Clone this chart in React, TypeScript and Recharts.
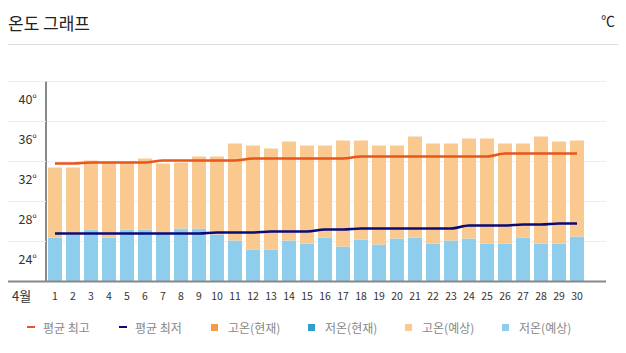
import { ComposedChart, Bar, Line, XAxis, YAxis, CartesianGrid, Legend } from 'recharts';

const days = ['1', '2', '3', '4', '5', '6', '7', '8', '9', '10', '11', '12', '13', '14', '15',
  '16', '17', '18', '19', '20', '21', '22', '23', '24', '25', '26', '27', '28', '29', '30'];

// forecast highs / lows per day (°C)
const highForecast = [31.4, 31.4, 32.1, 31.9, 31.9, 32.3, 31.8, 31.9, 32.5, 32.5, 33.8, 33.6, 33.3, 34.0, 33.6,
  33.6, 34.1, 34.1, 33.6, 33.6, 34.5, 33.8, 33.8, 34.3, 34.3, 33.8, 33.8, 34.5, 34.0, 34.1];
const lowForecast = [24.4, 24.7, 25.2, 24.4, 25.2, 25.2, 24.9, 25.3, 25.3, 24.7, 24.1, 23.2, 23.2, 24.1, 23.8,
  24.4, 23.5, 24.2, 23.7, 24.3, 24.4, 23.8, 24.1, 24.3, 23.8, 23.8, 24.4, 23.8, 23.8, 24.5];

// average high / low
const avgHigh = [31.8, 31.8, 31.9, 31.9, 31.9, 31.9, 32.1, 32.1, 32.1, 32.1, 32.1, 32.3, 32.3, 32.3, 32.3,
  32.3, 32.3, 32.5, 32.5, 32.5, 32.5, 32.5, 32.5, 32.5, 32.5, 32.8, 32.8, 32.8, 32.8, 32.8];
const avgLow = [24.8, 24.8, 24.8, 24.8, 24.8, 24.8, 24.8, 24.8, 24.8, 24.9, 24.9, 24.9, 25.0, 25.0, 25.0,
  25.2, 25.2, 25.3, 25.3, 25.3, 25.3, 25.3, 25.3, 25.6, 25.6, 25.6, 25.7, 25.7, 25.8, 25.8];

const yTicks = [20, 24, 28, 32, 36, 40];
const monthLabel = '4월';

const legendItems = [
  { label: '평균 최고', color: '#e8561c', kind: 'line' },
  { label: '평균 최저', color: '#0b0b78', kind: 'line' },
  { label: '고온(현재)', color: '#f59c45', kind: 'square' },
  { label: '저온(현재)', color: '#2e9fcf', kind: 'square' },
  { label: '고온(예상)', color: '#f9c98f', kind: 'square' },
  { label: '저온(예상)', color: '#8ecdec', kind: 'square' },
];

const data = days.map((d, i) => ({
  day: d,
  low: lowForecast[i],
  range: +(highForecast[i] - lowForecast[i]).toFixed(2),
  avgHigh: avgHigh[i],
  avgLow: avgLow[i],
}));

const FONT = '"Noto Sans CJK KR", "Noto Sans", sans-serif';

const YTick = (props: any) => {
  const { y, payload } = props;
  const v = payload.value;
  if (v === 20) {
    return <line x1={7} x2={46} y1={y} y2={y} stroke="#888" strokeWidth={2} />;
  }
  return (
    <g>
      <line x1={7} x2={46} y1={y} y2={y} stroke="#eee" />
      <text x={37} y={y + 17} textAnchor="end" dominantBaseline="central" fontSize={12.5} fill="#333" fontFamily={FONT}>
        {v}°
      </text>
    </g>
  );
};

const XTick = (props: any) => {
  const { x, payload, index } = props;
  return (
    <g>
      {index === 0 && (
        <text x={12} y={295} dominantBaseline="central" fontSize={13} fill="#333" fontFamily={FONT}>
          {monthLabel}
        </text>
      )}
      <text x={x} y={295} textAnchor="middle" dominantBaseline="central" fontSize={10.5} fill="#333" fontFamily={FONT}>
        {payload.value}
      </text>
    </g>
  );
};

const LegendBox = () => (
  <div style={{ display: 'flex', alignItems: 'center', height: 22, paddingLeft: 27, fontFamily: FONT, fontSize: 12, color: '#888' }}>
    {legendItems.map((it) => (
      <div key={it.label} style={{ display: 'flex', alignItems: 'center', width: it.kind === 'line' ? 92 : 97 }}>
        {it.kind === 'line' ? (
          <span style={{ display: 'inline-block', width: 8, height: 2, background: it.color, marginRight: 8 }} />
        ) : (
          <span style={{ display: 'inline-block', width: 7, height: 7, background: it.color, marginRight: 10 }} />
        )}
        <span>{it.label}</span>
      </div>
    ))}
  </div>
);

export default function App() {
  return (
    <div style={{ position: 'relative', width: 626, height: 353, margin: -8, background: '#fff', fontFamily: FONT }}>
      <div style={{ position: 'absolute', left: 8, top: 10, fontSize: 17, color: '#222' }}>온도 그래프</div>
      <div style={{ position: 'absolute', right: 11, top: 10, fontSize: 14, color: '#222' }}>℃</div>
      <div style={{ position: 'absolute', left: 0, right: 0, top: 44, height: 1, background: '#ddd' }} />
      <div style={{ position: 'absolute', left: 0, top: 0 }}>
        <ComposedChart
          width={626}
          height={353}
          data={data}
          barSize={14}
          margin={{ top: 81.5, right: 20, bottom: 0.5, left: 6 }}
        >
          <CartesianGrid horizontal vertical={false} stroke="#eee" />
          <XAxis
            dataKey="day"
            height={49}
            padding={{ left: 0, right: 20 }}
            axisLine={{ stroke: '#888', strokeWidth: 2 }}
            tickLine={false}
            interval={0}
            tick={<XTick />}
          />
          <YAxis
            width={40}
            domain={[20, 40]}
            ticks={yTicks}
            allowDataOverflow
            axisLine={{ stroke: '#888', strokeWidth: 2 }}
            tickLine={false}
            tick={<YTick />}
          />
          <Legend
            verticalAlign="bottom"
            content={() => <LegendBox />}
            wrapperStyle={{ top: 316, left: 0, width: 626, height: 22 }}
          />
          <Bar dataKey="low" stackId="t" fill="#8ecdec" name="저온(예상)" isAnimationActive={false} />
          <Bar dataKey="range" stackId="t" fill="#f9c98f" name="고온(예상)" isAnimationActive={false} />
          <Line type="monotone" dataKey="avgHigh" stroke="#e8561c" strokeWidth={2.5} dot={false} name="평균 최고" isAnimationActive={false} />
          <Line type="monotone" dataKey="avgLow" stroke="#0b0b78" strokeWidth={2.5} dot={false} name="평균 최저" isAnimationActive={false} />
        </ComposedChart>
      </div>
    </div>
  );
}
